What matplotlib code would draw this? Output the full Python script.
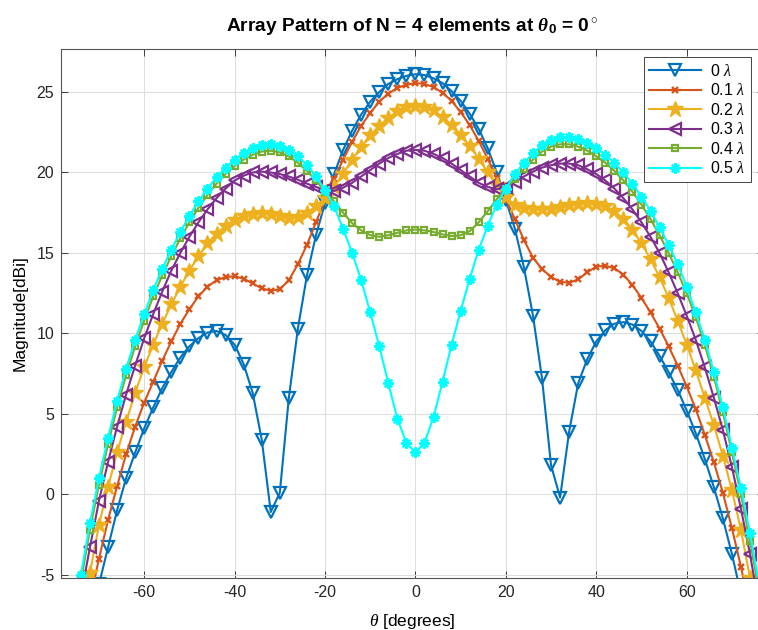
import numpy as np
import matplotlib
matplotlib.use('Agg')
import matplotlib.pyplot as plt

plt.rcParams['font.family'] = ['Liberation Sans', 'DejaVu Sans']
plt.rcParams['axes.unicode_minus'] = False
plt.rcParams['mathtext.fontset'] = 'custom'
plt.rcParams['mathtext.rm'] = 'Liberation Sans'
plt.rcParams['mathtext.it'] = 'Liberation Serif:italic'
plt.rcParams['mathtext.bf'] = 'Liberation Sans:bold'
plt.rcParams['mathtext.bfit'] = 'Liberation Serif:italic:bold'

# scan angles (degrees), 2 degree step
theta = np.arange(-76, 77, 2)

labels = ['0 $\\lambda$', '0.1 $\\lambda$', '0.2 $\\lambda$',
          '0.3 $\\lambda$', '0.4 $\\lambda$', '0.5 $\\lambda$']

# gain in dBi for each offset
g_00 = [-14.0, -11.0, -8.0, -5.6, -3.3, -1.0, 1.0, 2.6, 4.1, 5.4, 6.6, 7.6, 8.5,
        9.2, 9.7, 10.05, 10.15, 9.9, 9.3, 8.1, 6.3, 3.4, -1.1, 0.1, 6.0, 10.3,
        13.6, 16.1, 18.1, 19.9, 21.4, 22.6, 23.6, 24.4, 25.0, 25.5, 25.8, 26.0,
        26.1,
        26.05, 25.85, 25.55, 25.05, 24.45, 23.65, 22.7, 21.5, 20.0, 18.3, 16.5,
        14.1, 11.1, 7.2, 1.8, -0.2, 3.9, 6.9, 8.4, 9.5, 10.2, 10.6, 10.7, 10.55,
        10.15, 9.5, 8.6, 7.6, 6.5, 5.2, 3.8, 2.2, 0.45, -1.5, -3.7, -6.2, -9.0,
        -12.0]
g_01 = [-12.0, -9.3, -6.6, -4.0, -1.6, 0.5, 2.5, 4.2, 5.7, 7.0, 8.3, 9.5, 10.6,
        11.5, 12.3, 12.9, 13.3, 13.5, 13.55, 13.4, 13.1, 12.8, 12.65, 12.75,
        13.3, 14.3, 15.5, 16.9, 18.3, 19.6, 20.8, 21.9, 22.9, 23.7, 24.4, 24.9,
        25.25, 25.45, 25.55,
        25.5, 25.3, 24.95, 24.45, 23.75, 22.95, 21.95, 20.85, 19.65, 18.35, 17.1,
        15.8, 14.7, 14.0, 13.5, 13.2, 13.15, 13.35, 13.8, 14.15, 14.2, 14.05,
        13.65, 13.0, 12.2, 11.3, 10.3, 9.2, 8.0, 6.7, 5.3, 3.7, 2.0, 0.1, -2.1,
        -4.5, -7.2, -10.0]
g_02 = [-11.5, -8.0, -4.9, -1.9, 0.45, 2.6, 4.5, 6.3, 7.9, 9.3, 10.6, 11.8, 12.9,
        13.9, 14.8, 15.6, 16.2, 16.7, 17.05, 17.3, 17.4, 17.45, 17.4, 17.3, 17.2,
        17.25, 17.5, 17.9, 18.4, 19.1, 19.9, 20.8, 21.6, 22.3, 22.9, 23.4, 23.8,
        24.05, 24.1,
        24.05, 23.85, 23.45, 22.95, 22.35, 21.65, 20.85, 20.0, 19.2, 18.45, 18.0,
        17.8, 17.7, 17.7, 17.75, 17.85, 17.95, 18.05, 18.1, 18.05, 17.9, 17.6,
        17.1, 16.45, 15.6, 14.6, 13.5, 12.2, 10.8, 9.3, 7.7, 6.0, 4.3, 2.4, 0.25,
        -2.2, -5.2, -8.5]
g_03 = [-9.5, -6.3, -3.3, -0.4, 2.0, 4.2, 6.2, 8.0, 9.7, 11.2, 12.6, 13.9, 15.0,
        16.0, 16.9, 17.7, 18.4, 19.0, 19.5, 19.8, 20.0, 20.05, 20.0, 19.9, 19.75,
        19.55, 19.3, 19.1, 18.9, 18.85, 19.05, 19.35, 19.75, 20.15, 20.55, 20.9,
        21.15, 21.35, 21.4,
        21.35, 21.15, 20.9, 20.55, 20.15, 19.75, 19.35, 19.1, 18.95, 19.1, 19.4,
        19.75, 20.05, 20.3, 20.45, 20.55, 20.55, 20.45, 20.2, 19.9, 19.5, 19.0,
        18.4, 17.7, 16.9, 16.0, 15.0, 13.8, 12.5, 11.1, 9.6, 7.9, 6.0, 4.0, 1.7,
        -0.9, -3.7, -7.0]
g_04 = [-8.8, -5.4, -2.2, 0.6, 3.1, 5.4, 7.4, 9.2, 10.8, 12.3, 13.6, 14.8, 15.9,
        16.9, 17.8, 18.6, 19.3, 19.9, 20.4, 20.8, 21.1, 21.3, 21.35, 21.25, 21.0,
        20.6, 20.1, 19.5, 18.8, 18.2, 17.5, 16.85, 16.4, 16.1, 16.0, 16.1, 16.25,
        16.4, 16.45,
        16.4, 16.3, 16.15, 16.05, 16.1, 16.35, 16.9, 17.6, 18.35, 19.0, 19.6,
        20.2, 20.8, 21.3, 21.6, 21.75, 21.75, 21.6, 21.35, 21.0, 20.6, 20.1,
        19.5, 18.8, 18.0, 17.1, 16.1, 15.0, 13.8, 12.5, 11.0, 9.3, 7.3, 5.1, 2.6,
        0.0, -2.9, -6.0]
g_05 = [-8.5, -5.0, -1.8, 1.0, 3.5, 5.8, 7.8, 9.6, 11.2, 12.7, 14.0, 15.2, 16.3,
        17.3, 18.2, 19.0, 19.7, 20.3, 20.8, 21.2, 21.5, 21.7, 21.75, 21.65, 21.4,
        21.0, 20.45, 19.75, 18.9, 17.9, 16.5, 15.0, 13.3, 11.3, 9.2, 6.9, 4.7,
        3.2, 2.6,
        3.2, 4.8, 7.0, 9.3, 11.4, 13.4, 15.2, 16.7, 18.0, 19.0, 19.9, 20.6, 21.2,
        21.7, 22.0, 22.2, 22.2, 22.05, 21.8, 21.5, 21.1, 20.6, 20.0, 19.3, 18.5,
        17.6, 16.6, 15.5, 14.3, 12.9, 11.3, 9.6, 7.6, 5.4, 2.9, 0.4, -2.4, -5.6]

series = [g_00, g_01, g_02, g_03, g_04, g_05]
colors = ['#0072BD', '#D95319', '#EDB120', '#7E2F8E', '#77AC30', '#00FFFF']
styles = [
    dict(marker='v', ms=8, mfc='none', mew=1.6),
    dict(marker='x', ms=5, mew=1.7),
    dict(marker='*', ms=12, mew=1.0),
    dict(marker='<', ms=8, mfc='none', mew=1.6),
    dict(marker='s', ms=5, mfc='none', mew=1.6),
    dict(marker=(8, 2, 0), ms=7.5, mew=1.6),
]

fig = plt.figure(figsize=(7.58, 6.30), dpi=100)
ax = fig.add_axes([61 / 758, 52 / 630, 703 / 758, 529 / 630])

for g, c, st, lab in zip(series, colors, styles, labels):
    ax.plot(theta, g, color=c, lw=1.5, label=lab, **st)

ax.set_xlim(-78.4, 77.1)
ax.set_ylim(-5.2, 27.67)
ax.set_xticks([-60, -40, -20, 0, 20, 40, 60])
ax.set_yticks([-5, 0, 5, 10, 15, 20, 25])
ax.grid(True, color='#dedede', lw=0.8)
ax.set_axisbelow(True)
ax.tick_params(direction='in', length=5, width=0.6, colors='#262626',
               labelsize=11.5, top=True, right=True, pad=5)
for sp in ax.spines.values():
    sp.set_color('#555555')
    sp.set_linewidth(0.8)

ax.set_xlabel('$\\theta$ [degrees]', fontsize=12.5, labelpad=9)
ax.set_ylabel('Magnitude[dBi]', fontsize=12.5, labelpad=6)
ax.set_title('Array Pattern of N = 4 elements at $\\mathbfit{\\theta}_\\mathbf{0}$ = 0$^\\circ$',
             fontsize=13.8, fontweight='bold', pad=12)

leg = ax.legend(loc='upper right', bbox_to_anchor=(751 / 758, 1 - 57 / 630),
                bbox_transform=fig.transFigure, borderaxespad=0,
                fancybox=False, framealpha=1, edgecolor='#262626',
                handlelength=3.2, handletextpad=0.6, fontsize=11.5,
                labelspacing=0.22, borderpad=0.35, numpoints=1)
leg.get_frame().set_linewidth(0.6)

fig.savefig('out.png', dpi=100)
